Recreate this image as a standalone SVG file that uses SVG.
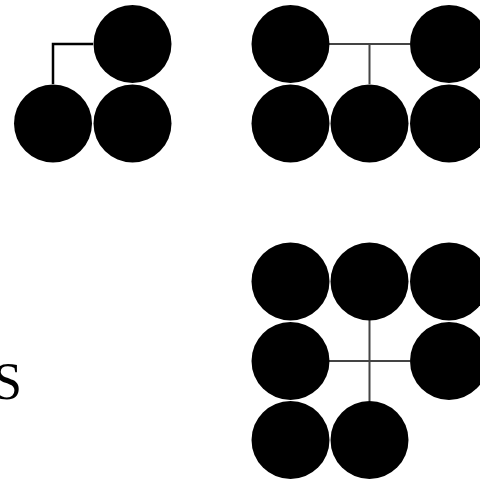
<svg xmlns="http://www.w3.org/2000/svg" width="480" height="480" viewBox="0 0 480 480">
<style>
.n{fill:#000}
.c{stroke:#444;stroke-width:2;fill:none}
.c1{stroke:#000;stroke-width:2.5;fill:none}
.t{font-family:"Liberation Serif",serif;font-size:52px;fill:#000}
</style>
<rect width="480" height="480" fill="#fff"/>
<g id="connectors">
<path class="c1" d="M93,44H53V84"/>
<path class="c" d="M329,44H410M369.5,44V84"/>
<path class="c" d="M369.5,320V401M329,361H410"/>
</g>
<g id="a1"><circle class="n" cx="132.5" cy="44" r="39"/></g>
<g id="a2"><circle class="n" cx="53" cy="123.5" r="39"/></g>
<g id="a3"><circle class="n" cx="132.5" cy="123.5" r="39"/></g>
<g id="b1"><circle class="n" cx="290.5" cy="44" r="39"/></g>
<g id="b2"><circle class="n" cx="449" cy="44" r="39"/></g>
<g id="b3"><circle class="n" cx="290.5" cy="123.5" r="39"/></g>
<g id="b4"><circle class="n" cx="369.5" cy="123.5" r="39"/></g>
<g id="b5"><circle class="n" cx="449" cy="123.5" r="39"/></g>
<g id="c1"><circle class="n" cx="290.5" cy="281.5" r="39"/></g>
<g id="c2"><circle class="n" cx="369.5" cy="281.5" r="39"/></g>
<g id="c3"><circle class="n" cx="449" cy="281.5" r="39"/></g>
<g id="c4"><circle class="n" cx="290.5" cy="361" r="39"/></g>
<g id="c5"><circle class="n" cx="449" cy="361" r="39"/></g>
<g id="c6"><circle class="n" cx="290.5" cy="440" r="39"/></g>
<g id="c7"><circle class="n" cx="369.5" cy="440" r="39"/></g>
<g id="label"><text class="t" x="-7" y="399">S</text></g>
</svg>
